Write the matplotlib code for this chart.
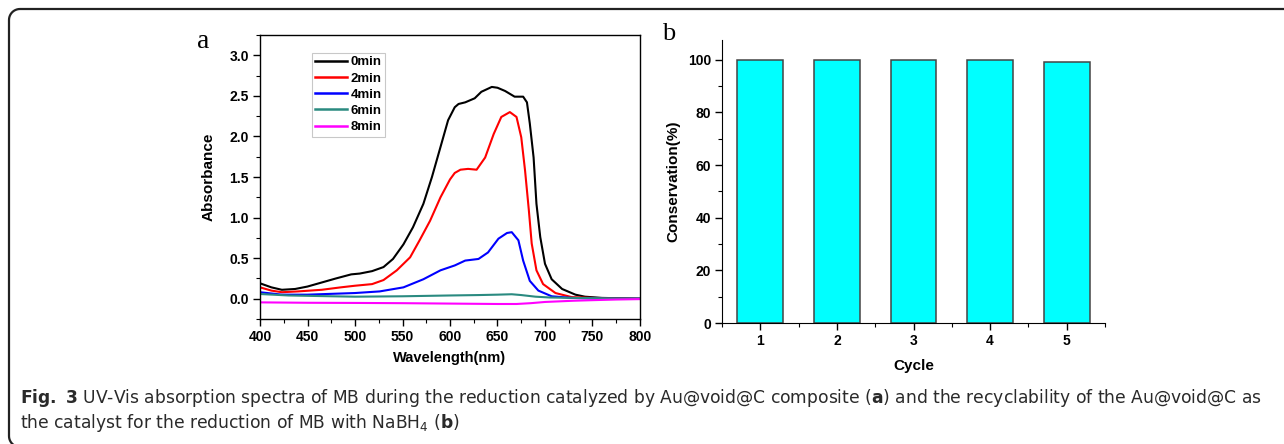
import numpy as np
import matplotlib
matplotlib.use("Agg")
import matplotlib.pyplot as plt
from matplotlib.path import Path
from matplotlib.patches import PathPatch
from matplotlib.ticker import MultipleLocator

# ---- data: panel a (UV-Vis spectra) ----
wl_0 = [400, 412, 423, 437, 450, 465, 480, 496, 505, 518, 530, 540, 551, 561, 572, 581, 590, 598,
        605, 609, 616, 626, 633, 644, 650, 658, 668, 677, 681, 684, 688, 691, 695, 700, 707, 718,
        732, 742, 760, 780, 800]
abs_0 = [0.19, 0.14, 0.11, 0.12, 0.15, 0.20, 0.25, 0.30, 0.31, 0.34, 0.39, 0.49, 0.67, 0.88, 1.17,
         1.50, 1.87, 2.20, 2.36, 2.40, 2.42, 2.47, 2.55, 2.61, 2.60, 2.56, 2.49, 2.49, 2.42, 2.16,
         1.74, 1.17, 0.76, 0.43, 0.24, 0.12, 0.05, 0.025, 0.01, 0.005, 0.0]

wl_2 = [400, 412, 423, 440, 465, 485, 500, 518, 530, 544, 558, 568, 579, 590, 600, 605, 611, 619,
        628, 637, 646, 654, 663, 670, 675, 679, 683, 686, 691, 698, 711, 728, 760, 800]
abs_2 = [0.14, 0.10, 0.08, 0.09, 0.11, 0.14, 0.16, 0.18, 0.23, 0.35, 0.51, 0.72, 0.96, 1.25, 1.47,
         1.55, 1.59, 1.60, 1.59, 1.74, 2.03, 2.24, 2.30, 2.24, 1.99, 1.58, 1.09, 0.68, 0.35, 0.18,
         0.07, 0.02, 0.005, 0.0]

wl_4 = [400, 423, 450, 475, 500, 526, 551, 572, 590, 605, 616, 630, 640, 651, 660, 665, 672, 677,
        684, 693, 707, 728, 760, 800]
abs_4 = [0.08, 0.05, 0.05, 0.06, 0.07, 0.09, 0.14, 0.24, 0.35, 0.41, 0.47, 0.49, 0.57, 0.74, 0.81,
         0.82, 0.72, 0.47, 0.22, 0.10, 0.03, 0.01, 0.0, 0.0]

wl_6 = [400, 430, 475, 500, 550, 600, 630, 650, 665, 675, 690, 705, 730, 760, 800]
abs_6 = [0.058, 0.04, 0.03, 0.025, 0.03, 0.04, 0.045, 0.05, 0.055, 0.045, 0.025, 0.015, 0.01,
         0.005, 0.0]

wl_8 = [400, 450, 500, 550, 600, 650, 670, 685, 700, 730, 750, 775, 800]
abs_8 = [-0.045, -0.05, -0.052, -0.055, -0.06, -0.065, -0.065, -0.055, -0.04, -0.025, -0.018,
         -0.01, -0.005]

series_labels = ["0min", "2min", "4min", "6min", "8min"]
series_colors = ["#000000", "#ff0000", "#0000ff", "#2a8a80", "#ff00ff"]

# ---- data: panel b (recyclability) ----
cycles = [1, 2, 3, 4, 5]
conservation = [100, 100, 100, 100, 99]

W, H = 1284, 444
fig = plt.figure(figsize=(W / 100, H / 100), dpi=100)

bold = dict(family="Liberation Sans", weight="bold")


def fx(px):
    return px / W


def fy(py):
    return 1 - py / H


# rounded border (top and left visible, right/bottom run off the page)
r = 11
L, T, R, B = 9, 9, W + 20, 447
verts = [(R, T)]
verts += [(L + r + r * np.cos(a), T + r - r * np.sin(a)) for a in np.linspace(np.pi / 2, np.pi, 12)]
verts += [(L + r + r * np.cos(a), B - r - r * np.sin(a)) for a in np.linspace(np.pi, 1.5 * np.pi, 12)]
verts += [(R, B)]
verts = [(fx(x), fy(y)) for x, y in verts]
border = PathPatch(Path(verts), transform=fig.transFigure, fill=False, lw=1.6,
                   edgecolor="#222222", clip_on=False)
fig.patches.append(border)

# ---- panel a ----
axa = fig.add_axes([fx(260), fy(319), (640 - 260) / W, (319 - 35) / H])
for wl, ab, lab, col in zip([wl_0, wl_2, wl_4, wl_6, wl_8],
                            [abs_0, abs_2, abs_4, abs_6, abs_8],
                            series_labels, series_colors):
    axa.plot(wl, ab, color=col, lw=1.5, label=lab)
axa.set_xlim(400, 800)
axa.set_ylim(-0.25, 3.25)
axa.xaxis.set_major_locator(MultipleLocator(50))
axa.xaxis.set_minor_locator(MultipleLocator(25))
axa.set_yticks([0.0, 0.5, 1.0, 1.5, 2.0, 2.5, 3.0])
axa.set_yticklabels(["0.0", "0.5", "1.0", "1.5", "2.0", "2.5", "3.0"])
axa.yaxis.set_minor_locator(MultipleLocator(0.25))
axa.tick_params(which="major", direction="out", length=5, width=1, labelsize=10, pad=3)
axa.tick_params(which="minor", direction="out", length=3, width=0.8)
for lbl in axa.get_xticklabels() + axa.get_yticklabels():
    lbl.set_fontfamily("Liberation Sans"); lbl.set_fontweight("bold")
for sp in axa.spines.values():
    sp.set_linewidth(1.0)
axa.set_xlabel("Wavelength(nm)", fontsize=10.5, labelpad=5, **bold)
axa.set_ylabel("Absorbance", fontsize=11, labelpad=10, **bold)
leg = axa.legend(loc="upper left", bbox_to_anchor=(0.137, 0.937), frameon=True, fancybox=False,
                 edgecolor="#bbbbbb", prop=dict(family="Liberation Sans", weight="bold", size=9.5),
                 handlelength=2.4, handletextpad=0.25, labelspacing=0.3, borderpad=0.25,
                 borderaxespad=0)
leg.get_frame().set_linewidth(0.8)
for h in leg.get_lines():
    h.set_linewidth(1.8)
fig.text(fx(197), fy(48), "a", fontsize=20, family="Liberation Serif")

# ---- panel b ----
axb = fig.add_axes([fx(722), fy(323), (1105 - 722) / W, (323 - 40) / H])
axb.bar(cycles, conservation, width=0.6, color="#00ffff", edgecolor="#444444", linewidth=1.1)
axb.set_xlim(0.5, 5.5)
axb.set_ylim(0, 107.5)
axb.set_xticks(cycles)
axb.xaxis.set_minor_locator(MultipleLocator(0.5))
axb.yaxis.set_major_locator(MultipleLocator(20))
axb.yaxis.set_minor_locator(MultipleLocator(10))
axb.tick_params(which="major", direction="out", length=5, width=1, labelsize=10, pad=3)
axb.tick_params(which="minor", direction="out", length=3, width=0.8)
for lbl in axb.get_xticklabels() + axb.get_yticklabels():
    lbl.set_fontfamily("Liberation Sans"); lbl.set_fontweight("bold")
axb.spines["top"].set_visible(False)
axb.spines["right"].set_visible(False)
axb.set_xlabel("Cycle", fontsize=11, labelpad=8, **bold)
axb.set_ylabel("Conservation(%)", fontsize=11, labelpad=5, **bold)
fig.text(fx(662), fy(40), "b", fontsize=19, family="Liberation Serif")

# ---- caption ----
cap_fam = ["DejaVu Sans"]
fig.text(fx(20), fy(403),
         r"$\bf{Fig.\ 3}$ UV-Vis absorption spectra of MB during the reduction catalyzed by Au@void@C composite ($\bf{a}$) and the recyclability of the Au@void@C as",
         fontsize=12.3, family=cap_fam, color="#2a2a2a")
fig.text(fx(20), fy(428),
         r"the catalyst for the reduction of MB with NaBH$_4$ ($\bf{b}$)",
         fontsize=12.3, family=cap_fam, color="#2a2a2a")

fig.savefig("out.png", dpi=100)
